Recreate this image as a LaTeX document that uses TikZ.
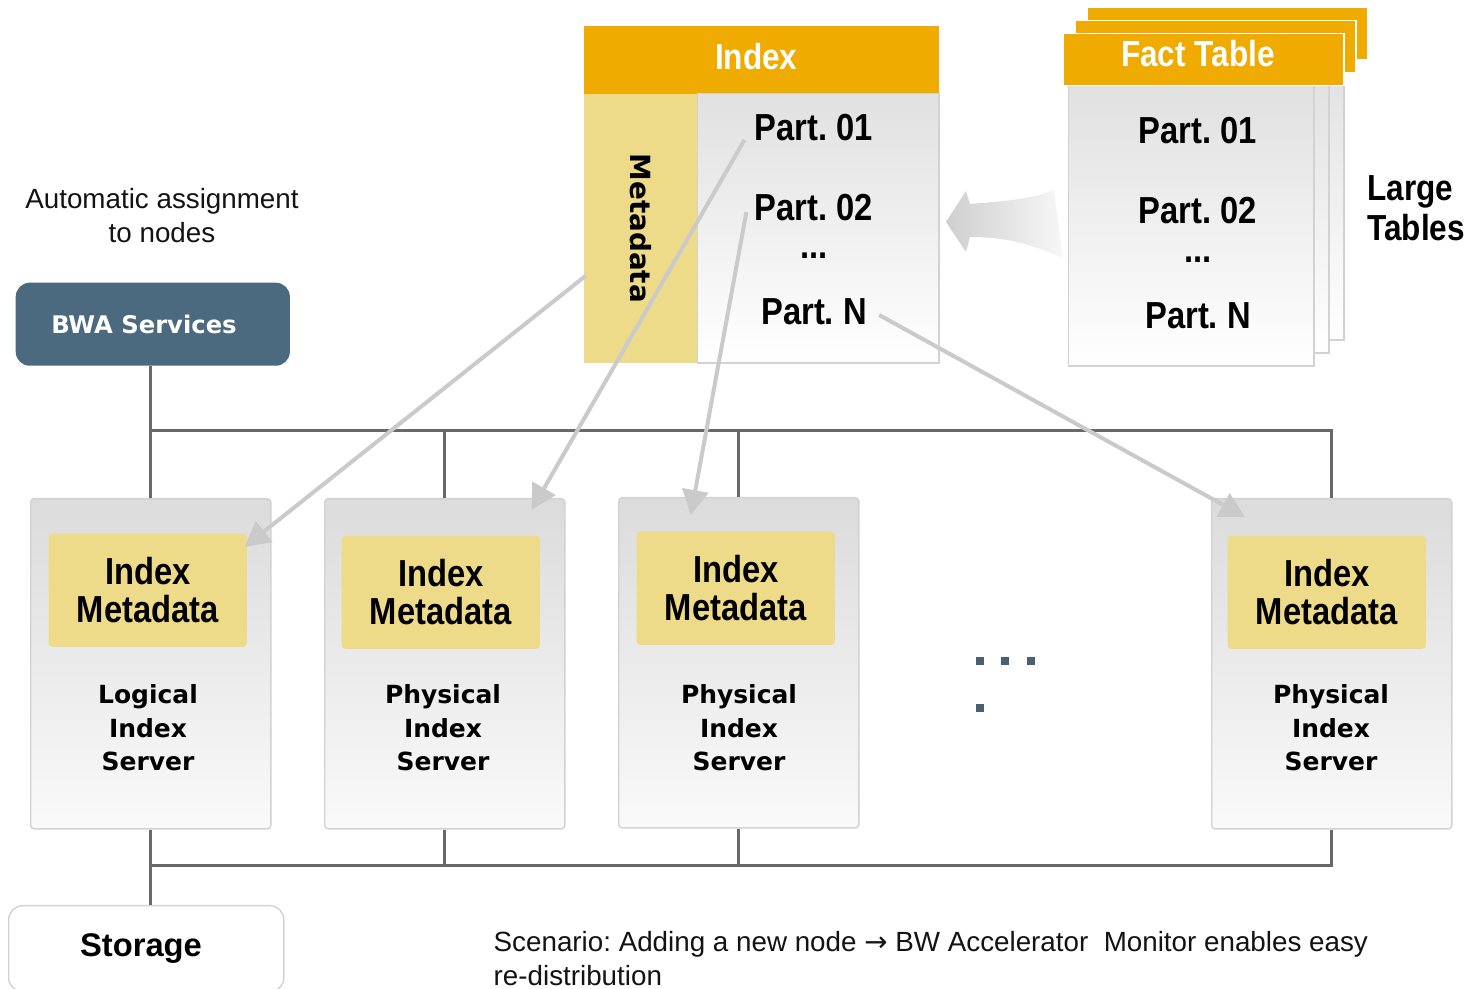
\documentclass[tikz,border=0pt]{standalone}
\usepackage{fontspec}
\setmainfont{Liberation Sans}
\newfontfamily\narrowfont{Liberation Sans}[FakeStretch=0.87]
\newfontfamily\dejavu{DejaVu Sans}
\usepackage{tikz}
\usetikzlibrary{arrows.meta}
\frenchspacing

\definecolor{sapgold}{RGB}{240,171,0}
\definecolor{metayellow}{RGB}{238,219,137}
\definecolor{bwablue}{RGB}{75,106,128}
\definecolor{dotblue}{RGB}{74,96,112}
\definecolor{busgray}{RGB}{105,105,105}
\definecolor{flowgray}{RGB}{202,202,202}
\definecolor{edgegray}{RGB}{210,210,210}

\tikzset{
    headtext/.style={text=white, font=\narrowfont\bfseries\fontsize{10.3}{12}\selectfont},
    goldhead/.style={fill=sapgold, minimum height=5.2mm},
    tablebody/.style={top color=gray!24, bottom color=white, draw=edgegray},
    partlabel/.style={font=\narrowfont\bfseries\fontsize{10.7}{12}\selectfont},
    serverbox/.style={top color=gray!28, bottom color=white!96!gray, draw=edgegray,
        rounded corners=1pt, minimum width=24mm, minimum height=33mm, anchor=north west},
    metabox/.style={fill=metayellow, rounded corners=1pt, minimum width=19.8mm,
        minimum height=11.3mm, align=center, anchor=north west,
        font=\narrowfont\bfseries\fontsize{10.7}{10.8}\selectfont},
    serverlabel/.style={align=center, font=\dejavu\bfseries\fontsize{7.1}{9.5}\selectfont},
    bus/.style={busgray, line width=0.3mm},
    flow/.style={flowgray, line width=0.4mm, -{Triangle[length=2.5mm, width=2.6mm]}},
}

\begin{document}
\begin{tikzpicture}[x=0.01cm, y=-0.01cm]
        % Fix the bounding box
        \path[fill=white, use as bounding box] (0,0) rectangle (1478,989);

        % Draw the index block
        \node[goldhead, anchor=north west, minimum width=35.5mm, minimum height=6.8mm] (idxhead) at (583,25) {};
        \node[headtext] (idxtitle) at ([shift={(-5,-3)}]idxhead.center) {Index};
        \node[fill=metayellow, anchor=north west, minimum width=11.4mm, minimum height=26.9mm] (metacol) at (583,93) {};
        \node[tablebody, anchor=north west, minimum width=24.1mm, minimum height=26.9mm] (idxbody) at (697,93) {};
        \node[rotate=-90, font=\dejavu\bfseries\fontsize{7.9}{9}\selectfont] (metatext) at (metacol.center) {Metadata};
        \node[partlabel] (p01) at (814,128) {Part. 01};
        \node[partlabel] (p02) at (814,208) {Part. 02};
        \node[partlabel] (pdots) at (814,256) {...};
        \node[partlabel] (pN) at (814,312) {Part. N};

        % Draw the stacked fact tables
        \foreach \k in {2,1,0} {
            \node[tablebody, anchor=north west, minimum width=24.5mm, minimum height=28mm] (factbody\k) at ({1068+15*\k},{85-13*\k}) {};
            \node[goldhead, draw=white, anchor=north west, minimum width=28mm] (facthead\k) at ({1063+12*\k},{33-13*\k}) {};
        }
        \node[headtext] (facttitle) at ([shift={(-6,-6)}]facthead0.center) {Fact Table};
        \node[partlabel] (f01) at (1198,131) {Part. 01};
        \node[partlabel] (f02) at (1198,211) {Part. 02};
        \node[partlabel] (fdots) at (1198,260) {...};
        \node[partlabel] (fN) at (1198,316) {Part. N};
        \node[anchor=west, align=left, font=\narrowfont\bfseries\fontsize{10.3}{11.4}\selectfont] (large) at (1355,208) {Large\\Tables};

        % Draw the wide arrow from the fact table to the index
        \path[left color=gray!38, right color=gray!6]
            (946,222) -- (966,191) -- (970,204)
            .. controls (1010,201) and (1035,198) .. (1054,190)
            -- (1063,258)
            .. controls (1035,246) and (1010,237) .. (970,237)
            -- (966,252) -- cycle;

        % Draw the services box
        \node[align=center, text=gray!15!black, font=\fontsize{7.9}{9.7}\selectfont] (autotext) at (162,216) {Automatic assignment\\to nodes};
        \node[fill=bwablue, rounded corners=4pt, anchor=north west, minimum width=27.4mm, minimum height=8.3mm,
            text=white, font=\dejavu\bfseries\fontsize{6.9}{8}\selectfont] (bwa) at (15,282) {BWA Services\hspace*{5pt}};

        % Draw the index servers
        \node[serverbox] (s1) at (30,498) {};
        \node[serverbox] (s2) at (324,498) {};
        \node[serverbox] (s3) at (618,497) {};
        \node[serverbox] (s4) at (1211,498) {};
        \node[metabox] (m1) at (48,533) {Index\\Metadata};
        \node[metabox] (m2) at (341,535) {Index\\Metadata};
        \node[metabox] (m3) at (636,531) {Index\\Metadata};
        \node[metabox] (m4) at (1227,535) {Index\\Metadata};
        \node[serverlabel] (l1) at (148,728) {Logical\\Index\\Server};
        \node[serverlabel] (l2) at (443,728) {Physical\\Index\\Server};
        \node[serverlabel] (l3) at (739,728) {Physical\\Index\\Server};
        \node[serverlabel] (l4) at (1331,728) {Physical\\Index\\Server};

        % Draw the dots for more servers
        \foreach \x in {980,1005,1031}
            \fill[dotblue] (\x-4,657) rectangle ++(8,8);
        \fill[dotblue] (976,704) rectangle ++(8,8);

        % Draw the storage box and the scenario note
        \node[draw=edgegray, fill=white, rounded corners=4pt, anchor=north west, minimum width=27.5mm, minimum height=8.6mm,
            font=\bfseries\fontsize{9.3}{11}\selectfont] (storage) at (8,905) {Storage\hspace*{3pt}};
        \node[anchor=north west, align=left, inner sep=0pt, text=gray!15!black, font=\fontsize{7.9}{9.7}\selectfont] (scenario) at (493,931)
            {Scenario: Adding a new node {\dejavu →} BW Accelerator\ \ Monitor enables easy\\re-distribution};

        % Draw the bus lines
        \coordinate (busup) at (0,431);
        \coordinate (busdown) at (0,866);
        \draw[bus] (s1.north |- bwa.south) -- (s1.north);
        \draw[bus] (s1.north |- busup) -- (s4.north |- busup) -- (s4.north);
        \draw[bus] (s2.north |- busup) -- (s2.north);
        \draw[bus] (s3.north |- busup) -- (s3.north);
        \draw[bus] (s1.south) -- (s1.south |- storage.north);
        \draw[bus] (s1.south |- busdown) -- (s4.south |- busdown) -- (s4.south);
        \draw[bus] (s2.south) -- (s2.south |- busdown);
        \draw[bus] (s3.south) -- (s3.south |- busdown);

        % Draw the assignment arrows
        \draw[flow] ([shift={(3,-88)}]metacol.south west) -- ([shift={(-3,14)}]m1.north east);
        \draw[flow] ([shift={(2,12)}]p01.west) -- ([shift={(-34,12)}]s2.north east);
        \draw[flow] ([shift={(4,4)}]p02.west) -- ([shift={(-48,18)}]s3.north);
        \draw[flow] ([shift={(0,3)}]pN.east) -- ([shift={(34,19)}]s4.north west);

    \end{tikzpicture}
\end{document}
